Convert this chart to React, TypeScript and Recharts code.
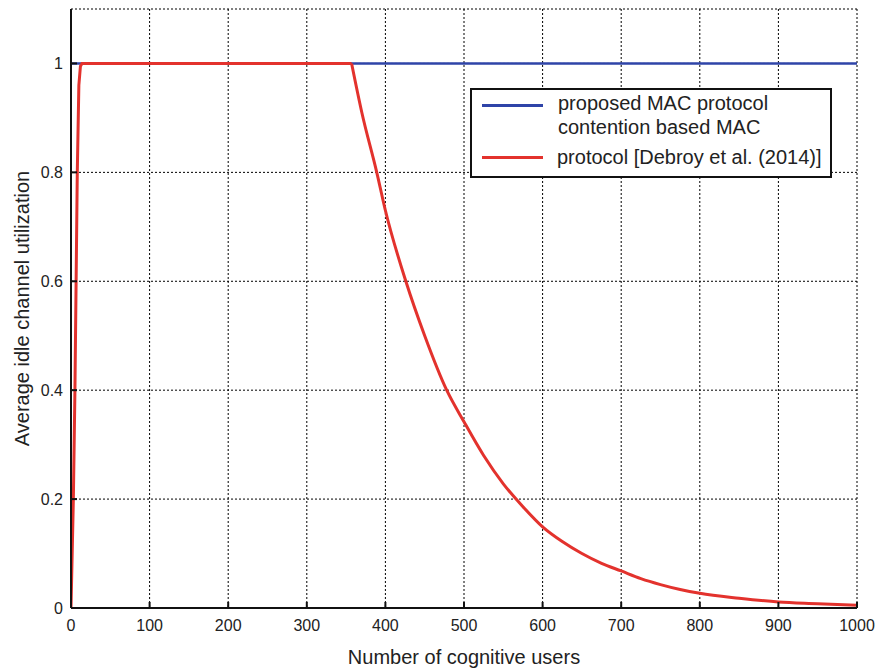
import React from "react";
import {
  CartesianGrid,
  Label,
  Line,
  LineChart,
  XAxis,
  YAxis,
} from "recharts";

// proposed MAC protocol: flat at full utilization
const proposedUsers = [0, 1000];
const proposedUtil = [1, 1];

// contention based MAC protocol [Debroy et al. (2014)]
const debroyUsers = [
  0, 3, 5, 6.5, 8, 10, 12, 14, 357, 370, 389, 400, 426, 450, 478, 500, 525, 550,
  575, 600, 625, 650, 675, 700, 725, 750, 775, 800, 850, 900, 950, 1000,
];
const debroyUtil = [
  0, 0.2, 0.4, 0.6, 0.8, 0.96, 0.995, 1, 1, 0.91, 0.8, 0.73, 0.6, 0.5, 0.4,
  0.342, 0.28, 0.228, 0.186, 0.149, 0.122, 0.1, 0.082, 0.068, 0.054, 0.043,
  0.034, 0.027, 0.018, 0.011, 0.008, 0.005,
];
// the curve stays saturated up to this many users, then decays
const saturationEnd = 357;

const xTicks = [0, 100, 200, 300, 400, 500, 600, 700, 800, 900, 1000];
const yTicks = [0, 0.2, 0.4, 0.6, 0.8, 1];

const BLUE = "#2f44a8";
const RED = "#e3322d";
const INK = "#222";
const FONT = "'Liberation Sans', Arial, sans-serif";

const proposedData = proposedUsers.map((x, i) => ({ x, y: proposedUtil[i] }));
const debroyData = debroyUsers.map((x, i) => ({ x, y: debroyUtil[i] }));
// rise + plateau drawn straight, the decay drawn smooth
const debroyRise = debroyData.filter((d) => d.x <= saturationEnd);
const debroyDecay = debroyData.filter((d) => d.x >= saturationEnd);

const noLabel = () => "";

// MATLAB-style boxed legend, placed over the plot's upper right
function LegendBox() {
  const sample = (color: string, top: number) => (
    <div style={{ position: "absolute", left: 10, top, width: 61, height: 3, background: color }} />
  );
  return (
    <div
      style={{
        position: "absolute",
        left: 470,
        top: 88,
        width: 358,
        height: 86,
        border: "2px solid #111",
        background: "#fff",
        fontFamily: FONT,
        fontSize: 20,
        color: INK,
      }}
    >
      {sample(BLUE, 14)}
      <div style={{ position: "absolute", left: 86, top: 1, lineHeight: "24px", whiteSpace: "nowrap" }}>
        <div>proposed MAC protocol</div>
        <div>contention based MAC</div>
      </div>
      {sample(RED, 66)}
      <div style={{ position: "absolute", left: 85, top: 55, lineHeight: "24px", whiteSpace: "nowrap" }}>
        protocol [Debroy et al. (2014)]
      </div>
    </div>
  );
}

export default function App() {
  return (
    <div style={{ position: "absolute", left: 0, top: 0, width: 880, height: 668, background: "#fff" }}>
      <LineChart width={880} height={668} margin={{ top: 9, right: 23, bottom: 0, left: 0 }}>
        <CartesianGrid stroke="#000" strokeDasharray="2 2" strokeWidth={1} />
        <XAxis
          type="number"
          dataKey="x"
          domain={[0, 1000]}
          ticks={xTicks}
          allowDataOverflow
          height={60}
          stroke="#111"
          strokeWidth={2}
          tickSize={-6}
          tickMargin={18}
          tick={{ fill: INK, fontSize: 16, fontFamily: FONT }}
        >
          <Label
            value="Number of cognitive users"
            position="insideBottom"
            offset={4}
            style={{ fill: INK, fontSize: 20, fontFamily: FONT }}
          />
        </XAxis>
        <XAxis
          xAxisId="top"
          orientation="top"
          type="number"
          domain={[0, 1000]}
          ticks={xTicks}
          height={0}
          stroke="#111"
          strokeWidth={2}
          tickSize={-6}
          tickFormatter={noLabel}
        />
        <YAxis
          type="number"
          domain={[0, 1.1]}
          ticks={yTicks}
          allowDataOverflow
          width={71}
          stroke="#111"
          strokeWidth={2}
          tickSize={-6}
          tickMargin={14}
          tick={{ fill: INK, fontSize: 16, fontFamily: FONT }}
        >
          <Label
            value="Average idle channel utilization"
            angle={-90}
            position="insideLeft"
            offset={22}
            style={{ fill: INK, fontSize: 20, fontFamily: FONT, textAnchor: "middle" }}
          />
        </YAxis>
        <YAxis
          yAxisId="right"
          orientation="right"
          type="number"
          domain={[0, 1.1]}
          ticks={yTicks}
          width={0}
          stroke="#111"
          strokeWidth={2}
          tickSize={-6}
          tickFormatter={noLabel}
        />
        <Line
          data={proposedData}
          dataKey="y"
          stroke={BLUE}
          strokeWidth={2.5}
          dot={false}
          isAnimationActive={false}
          type="linear"
        />
        <Line
          data={debroyRise}
          dataKey="y"
          stroke={RED}
          strokeWidth={3}
          dot={false}
          isAnimationActive={false}
          type="linear"
        />
        <Line
          data={debroyDecay}
          dataKey="y"
          stroke={RED}
          strokeWidth={3}
          dot={false}
          isAnimationActive={false}
          type="monotoneX"
        />
      </LineChart>
      <LegendBox />
    </div>
  );
}
